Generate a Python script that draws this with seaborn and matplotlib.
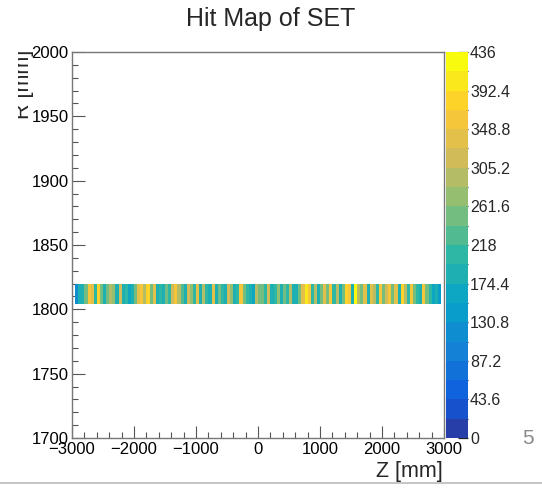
import numpy as np
import pandas as pd
import matplotlib
matplotlib.use("Agg")
import matplotlib.pyplot as plt
import seaborn as sns
from matplotlib.colors import LinearSegmentedColormap, ListedColormap
from matplotlib.patches import Rectangle
from matplotlib.lines import Line2D
from matplotlib.ticker import FixedLocator, MultipleLocator

# ---------------- data ----------------
z_first_edge = -2950      # mm, left edge of first filled Z bin
z_bin_width = 50          # mm
r_bin = [1804, 1820]      # mm, single R bin of the SET layer
hits = [
    110, 190, 180, 240, 360, 330, 200, 380, 260, 190, 250, 300, 270, 190, 310, 180, 200, 170, 190, 240,
    340, 360, 300, 380, 250, 330, 190, 200, 190, 260, 200, 320, 350, 300, 230, 190, 310, 280, 200, 330,
    190, 300, 200, 180, 340, 190, 260, 200, 190, 310, 280, 190, 200, 360, 250, 200, 190, 170, 300, 240,
    260, 200, 310, 190, 200, 280, 190, 250, 200, 300, 190, 180, 240, 330, 400, 370, 200, 300, 190, 260,
    330, 250, 360, 200, 300, 190, 260, 380, 350, 190, 436, 300, 250, 340, 190, 330, 300, 200, 360, 260,
    310, 360, 240, 330, 190, 380, 300, 200, 350, 260, 200, 190, 360, 250, 200, 170, 190, 150,
]
cbar_ticks = [0, 43.6, 87.2, 130.8, 174.4, 218, 261.6, 305.2, 348.8, 392.4, 436]
cbar_labels = ["0", "43.6", "87.2", "130.8", "174.4", "218", "261.6", "305.2", "348.8", "392.4", "436"]
x_ticks = [-3000, -2000, -1000, 0, 1000, 2000, 3000]
y_ticks = [1700, 1750, 1800, 1850, 1900, 1950, 2000]
title = "Hit Map of SET"
x_label = "Z [mm]"
y_label = "R [mm]"

# ---------------- style ----------------
sns.set_theme(style="white")
plt.rcParams["font.family"] = ["Liberation Sans", "DejaVu Sans"]

# ROOT kBird palette, discretised into 20 contour levels
stops = np.linspace(0, 1, 9)
red = [0.2082, 0.0592, 0.0780, 0.0232, 0.1802, 0.5301, 0.8186, 0.9956, 0.9764]
green = [0.1664, 0.3599, 0.5041, 0.6419, 0.7178, 0.7492, 0.7328, 0.7862, 0.9832]
blue = [0.5293, 0.8684, 0.8385, 0.7914, 0.6425, 0.4662, 0.3499, 0.1968, 0.0539]
bird = LinearSegmentedColormap.from_list(
    "bird", [(s, (r, g, b)) for s, r, g, b in zip(stops, red, green, blue)], N=255)
n_lev = 20
idx = [int((i + 0.99) * 255 / n_lev) / 254 for i in range(n_lev)]
cmap = ListedColormap([bird(min(v, 1.0)) for v in idx])

n = len(hits)
z_edges = z_first_edge + z_bin_width * np.arange(n + 1)
z_centers = (z_edges[:-1] + z_edges[1:]) / 2
r_center = (r_bin[0] + r_bin[1]) / 2
df = pd.DataFrame({"Z": z_centers, "R": np.full(n, r_center), "hits": hits})

W, H = 542, 491
fig = plt.figure(figsize=(W / 100, H / 100), dpi=100)
fig.patch.set_facecolor("white")
ax = fig.add_axes([72 / W, 53 / H, 372 / W, 386 / H])
cax = fig.add_axes([446 / W, 53 / H, 22 / W, 386 / H])

sns.histplot(data=df, x="Z", y="R", weights="hits",
             bins=[z_edges, np.array(r_bin, dtype=float)],
             cmap=cmap, vmin=0, vmax=436, cbar=True, cbar_ax=cax, ax=ax)

ax.set_xlim(-3000, 3000)
ax.set_ylim(1700, 2000)
ax.set_xlabel("")
ax.set_ylabel("")
ax.set_xticks(x_ticks)
ax.set_yticks(y_ticks)
ax.xaxis.set_minor_locator(MultipleLocator(200))
ax.yaxis.set_minor_locator(MultipleLocator(10))
ax.tick_params(axis="both", which="major", direction="in", length=9, width=0.8,
               color="#555555", labelsize=12, labelcolor="black",
               bottom=True, left=True, top=False, right=False)
ax.tick_params(axis="both", which="minor", direction="in", length=4.5, width=0.8,
               color="#555555", bottom=True, left=True, top=False, right=False)
ax.tick_params(axis="x", which="major", pad=3)
ax.tick_params(axis="y", which="major", pad=2.5)
for sp in ax.spines.values():
    sp.set_color("#777777")
    sp.set_linewidth(1.0)
    sp.set_visible(True)

# colorbar styling
cbar = ax.collections[0].colorbar
cbar.outline.set_visible(False)
cax.yaxis.set_major_locator(FixedLocator(cbar_ticks))
cax.set_yticklabels(cbar_labels)
cax.yaxis.set_minor_locator(FixedLocator([(cbar_ticks[i] + cbar_ticks[i + 1]) / 2
                                          for i in range(len(cbar_ticks) - 1)]))
cax.tick_params(axis="y", which="both", direction="in", length=7.5, width=0.9,
                color="#222222", right=True, left=False, labelsize=11.5, pad=1.5)

# texts
fig.text(271 / W, 1 - 19 / H, title, ha="center", va="center", fontsize=18)
fig.text(443 / W, 1 - 471 / H, x_label, ha="right", va="center", fontsize=15.5)
fig.text(34 / W, 1 - 50 / H, y_label, ha="right", va="top", rotation=90, fontsize=15.5)
# the slide crops the left part of the R label
fig.patches.append(Rectangle((0, 1 - 140 / H), 18 / W, 100 / H, transform=fig.transFigure,
                             facecolor="white", edgecolor="none", zorder=20))
fig.text(528 / W, 1 - 438 / H, "5", ha="center", va="center", fontsize=15, color="#8a8a8a")
fig.lines.append(Line2D([0, 1], [1 - 483 / H, 1 - 483 / H], transform=fig.transFigure,
                        color="#bbbbbb", linewidth=1.2))

fig.savefig("out.png", dpi=100)
